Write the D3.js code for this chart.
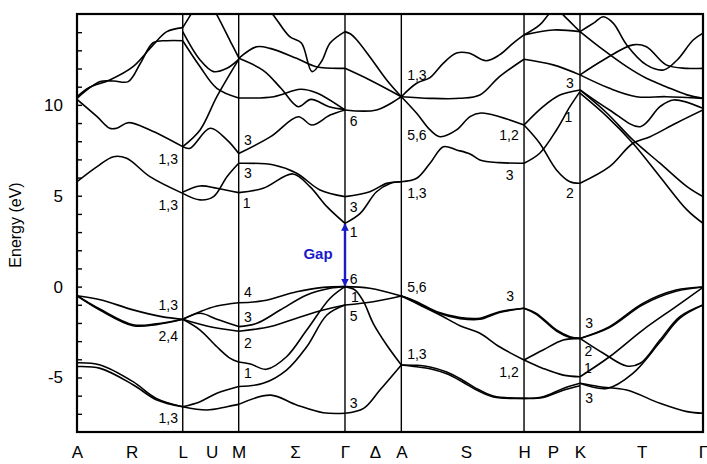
<!DOCTYPE html>
<html><head><meta charset="utf-8">
<script src="https://cdn.jsdelivr.net/npm/d3@7"></script>
<style>body{margin:0;background:#fff}svg{display:block}</style>
</head><body><svg id="c" width="707" height="464"></svg>
<script>
// k-path labels and positions (arbitrary path units)
const kLabels = ["A","R","L","U","M","Σ","Γ","Δ","A","S","H","P","K","T","Γ"];
const kLabelPos = [0, 0.874, 1.689, 2.152, 2.583, 3.482, 4.281, 4.760, 5.181, 6.214, 7.141, 7.604, 8.035, 9.021, 10.0];
const symPoints = [0, 1.689, 2.583, 4.281, 5.181, 7.141, 8.035, 10.0];
const yMajorTicks = [-5, 0, 5, 10];
const yMinorTicks = d3.range(-7, 15);

// bands per segment: [fraction along segment, energy eV]
const bandsAL = [
 [[0,-0.5],[0.22,-0.72],[0.53,-1.28],[0.8,-1.65],[1,-1.8]],
 [[0,-0.5],[0.22,-1.25],[0.53,-2.1],[0.75,-2.05],[1,-1.8]],
 [[0,-0.5],[0.22,-1.3],[0.53,-2.15],[0.75,-2.09],[1,-1.8]],
 [[0,-4.19],[0.22,-4.31],[0.53,-5.23],[0.75,-6.15],[1,-6.61]],
 [[0,-4.4],[0.22,-4.5],[0.53,-5.4],[0.75,-6.22],[1,-6.61]],
 [[0,5.77],[0.19,6.6],[0.345,7.15],[0.47,7.06],[0.69,6.05],[1,5.13]],
 [[0,10.3],[0.19,9.35],[0.31,8.71],[0.375,8.71],[0.485,9.02],[0.69,8.62],[1,7.7]],
 [[0,10.45],[0.12,10.97],[0.31,11.37],[0.53,12.1],[0.72,13.3],[0.85,14.03],[1,14.25]],
 [[0,10.36],[0.22,11.28],[0.35,11.31],[0.485,11.28],[0.6,12.29],[0.72,13.42],[0.85,13.53],[1,13.53]]
];
const bandsLM = [
 [[0,-1.8],[0.31,-1.38],[0.61,-1.07],[1,-0.89]],
 [[0,-1.8],[0.31,-1.47],[0.61,-1.8],[1,-2.2]],
 [[0,-1.8],[0.43,-2.17],[1,-2.46]],
 [[0,-1.8],[0.31,-2.39],[0.61,-3.31],[0.85,-3.95],[1,-4.15]],
 [[0,-6.61],[0.31,-6.33],[0.61,-5.87],[1,-5.5]],
 [[0,-6.61],[0.43,-6.79],[0.79,-6.61],[1,-6.48]],
 [[0,5.2],[0.31,5.54],[0.61,5.41],[1,5.17]],
 [[0,5.13],[0.31,4.77],[0.55,4.95],[0.79,6.05],[1,6.79]],
 [[0,7.7],[0.31,8.62],[0.61,10.45],[1,12.5]],
 [[0,7.7],[0.13,7.61],[0.49,8.71],[0.79,8.07],[1,7.32]],
 [[0,13.53],[0.31,12.1],[0.61,10.91],[1,10.38]],
 [[0,14.03],[0.31,12.47],[0.55,11.83],[0.79,12.01],[1,12.5]],
 [[0,14.25],[0.19,15.2],[0.35,16]],
 [[0.5,15.5],[0.61,14.95],[0.85,13.5],[1,12.6]]
];
const bandsMG = [
 [[0,17],[0.2,15.8],[0.325,14.95],[0.48,13.75],[0.59,13.4],[0.69,11.83],[0.78,12.4],[0.86,13.4],[1,14.03]],
 [[0,12.56],[0.17,13.2],[0.295,13.11],[0.545,12.56],[0.73,12.1],[1,12.01]],
 [[0,12.56],[0.23,11.9],[0.4,10.9],[0.56,9.9],[0.68,10.3],[0.85,9.9],[1,9.75]],
 [[0,10.38],[0.33,10.45],[0.58,10.86],[0.73,10.67],[1,9.72]],
 [[0,7.32],[0.3,8.25],[0.56,9.35],[0.69,8.89],[0.86,9.44],[1,9.72]],
 [[0,6.79],[0.33,6.69],[0.545,6.24],[0.765,5.32],[1,4.95]],
 [[0,5.17],[0.23,5.41],[0.51,6.2],[0.67,5.5],[0.83,4.4],[1,3.48]],
 [[0,-0.89],[0.23,-0.78],[0.545,-0.28],[0.795,-0.04],[1,0]],
 [[0,-2.2],[0.17,-2.02],[0.39,-1.29],[0.64,-0.46],[0.86,-0.09],[1,0]],
 [[0,-2.46],[0.3,-2.2],[0.545,-1.74],[0.795,-1.29],[1,-1.01]],
 [[0,-4.15],[0.11,-4.26],[0.26,-4.55],[0.45,-3.86],[0.64,-2.39],[0.86,-0.64],[1,0]],
 [[0,-5.5],[0.23,-5.32],[0.45,-4.59],[0.64,-3.31],[0.83,-1.56],[1,-1.01]],
 [[0,-6.48],[0.3,-5.97],[0.545,-6.51],[0.795,-6.94],[1,-6.97]]
];
const bandsGA = [
 [[0,0],[0.44,-0.09],[1,-0.52]],
 [[0,0],[0.18,-0.19],[0.33,-0.83],[0.5,-2.02],[0.74,-3.21],[1,-4.31]],
 [[0,-1.01],[0.5,-0.83],[1,-0.52]],
 [[0,-6.97],[0.33,-6.7],[0.62,-5.69],[1,-4.31]],
 [[0,14.03],[0.1,13.9],[0.21,13.57],[0.44,12.65],[0.74,11.37],[1,10.45]],
 [[0,12.01],[0.44,11.37],[1,10.45]],
 [[0,9.72],[0.56,9.72],[1,10.45]],
 [[0,4.95],[0.44,5.22],[0.74,5.68],[1,5.77]],
 [[0,3.48],[0.27,4.03],[0.56,5.22],[0.8,5.68],[1,5.77]]
];
const bandsAH = [
 [[0,10.45],[0.125,11.19],[0.234,11.5],[0.343,12.3],[0.45,12.85],[0.55,12.85],[0.69,12.43],[0.8,12.75],[0.91,13.39],[1,13.85]],
 [[0,10.45],[0.234,10.36],[0.478,10.36],[0.64,10.54],[0.8,11.55],[1,12.51]],
 [[0,10.45],[0.125,9.54],[0.234,8.62],[0.315,8.25],[0.45,8.62],[0.56,9.35],[0.65,9.55],[0.8,9.35],[1,8.89]],
 [[0,5.77],[0.125,5.96],[0.234,6.79],[0.343,7.7],[0.45,7.52],[0.56,7.3],[0.64,6.97],[0.8,6.82],[1,6.79]],
 [[0,-0.52],[0.125,-0.83],[0.29,-1.38],[0.48,-1.7],[0.64,-1.74],[0.8,-1.38],[1,-1.19]],
 [[0,-0.52],[0.125,-0.87],[0.29,-1.43],[0.48,-1.76],[0.64,-1.8],[0.8,-1.43],[1,-1.19]],
 [[0,-0.52],[0.15,-1.01],[0.315,-1.56],[0.478,-2.15],[0.64,-2.57],[0.8,-3.31],[1,-4.04]],
 [[0,-4.31],[0.125,-4.33],[0.234,-4.42],[0.37,-4.7],[0.5,-5.15],[0.61,-5.6],[0.75,-6.02],[1,-6.15]],
 [[0,-4.31],[0.125,-4.41],[0.234,-4.52],[0.37,-4.8],[0.5,-5.25],[0.61,-5.68],[0.75,-6.07],[1,-6.15]]
];
const bandsHK = [
 [[0,13.85],[0.52,14.12],[1,14.03]],
 [[0,13.85],[0.28,14.4],[0.43,14.95],[0.6,15.6]],
 [[0.55,15.5],[0.7,14.95],[0.82,14.58],[1,14.03]],
 [[0,12.51],[0.52,12.2],[1,11.65]],
 [[0,8.89],[0.34,9.9],[0.64,10.54],[1,10.82]],
 [[0,6.79],[0.28,7.34],[0.58,8.62],[0.82,9.9],[1,10.73]],
 [[0,8.89],[0.28,7.89],[0.58,6.42],[0.82,5.77],[1,5.69]],
 [[0,-1.19],[0.22,-1.47],[0.58,-2.39],[0.82,-2.76],[1,-2.85]],
 [[0,-1.19],[0.22,-1.52],[0.58,-2.45],[0.82,-2.8],[1,-2.85]],
 [[0,-4.04],[0.34,-3.49],[0.7,-2.94],[1,-2.85]],
 [[0,-4.04],[0.34,-4.5],[0.7,-4.87],[1,-4.96]],
 [[0,-6.15],[0.34,-6.06],[0.7,-5.6],[1,-5.32]],
 [[0,-6.15],[0.34,-6.1],[0.7,-5.7],[1,-5.45]]
];
const bandsKG = [
 [[0,14.03],[0.19,13.02],[0.38,12.1],[0.54,11.46],[0.7,11.0],[0.87,10.55],[1,10.36]],
 [[0,14.03],[0.11,14.5],[0.19,14.85],[0.27,14.5],[0.38,13.3],[0.54,12.2],[0.68,11.92],[0.79,12.47],[0.92,13.57],[1,13.95]],
 [[0,11.65],[0.19,12.47],[0.43,13.3],[0.54,13.2],[0.7,12.2],[0.87,12.01],[1,12.01]],
 [[0,11.65],[0.24,10.91],[0.46,10.45],[0.7,10.45],[1,10.36]],
 [[0,10.82],[0.24,9.72],[0.49,8.8],[0.65,9.9],[0.76,10.27],[1,9.81]],
 [[0,5.69],[0.24,6.6],[0.43,7.89],[0.57,8.25],[0.78,8.99],[1,9.72]],
 [[0,10.82],[0.22,9.54],[0.43,8.07],[0.65,6.79],[0.87,5.5],[1,4.95]],
 [[0,10.64],[0.22,9.35],[0.43,7.89],[0.65,6.05],[0.87,4.22],[1,3.48]],
 [[0,-2.85],[0.24,-2.2],[0.51,-0.92],[0.78,-0.19],[1,-0.02]],
 [[0,-2.85],[0.24,-2.25],[0.51,-1.0],[0.78,-0.26],[1,-0.02]],
 [[0,-2.85],[0.19,-3.67],[0.38,-4.37],[0.49,-4.22],[0.65,-2.94],[0.81,-1.66],[1,-1.01]],
 [[0,-4.96],[0.24,-3.86],[0.51,-2.39],[0.78,-1.1],[1,-0.04]],
 [[0,-5.32],[0.22,-5.6],[0.43,-4.77],[0.65,-3.05],[0.81,-1.75],[1,-1.01]],
 [[0,-5.32],[0.16,-5.51],[0.38,-5.69],[0.65,-6.42],[0.87,-6.88],[1,-6.97]]
];
const segments = [bandsAL, bandsLM, bandsMG, bandsGA, bandsAH, bandsHK, bandsKG];

// symmetry annotations [text, k, E]
const symLabels = [
 ["1,3",1.458,7.0],["1,3",1.458,4.49],["1,3",1.458,-1.01],["2,4",1.458,-2.72],["1,3",1.458,-7.25],
 ["3",2.73,8.07],["3",2.73,6.24],["1",2.71,4.62],["4",2.73,-0.28],["3",2.73,-1.66],["2",2.73,-3.09],["1",2.73,-4.77],
 ["6",4.42,9.13],["3",4.42,4.4],["1",4.42,3.02],["6",4.42,0.4],["1",4.44,-0.55],["5",4.42,-1.62],["3",4.42,-6.41],
 ["1,3",5.43,11.65],["5,6",5.43,8.34],["1,3",5.43,5.17],["5,6",5.43,-0.04],["1,3",5.43,-3.71],
 ["1,2",6.9,8.34],["3",6.91,6.14],["3",6.92,-0.52],["1,2",6.9,-4.68],
 ["3",7.875,11.19],["1",7.848,9.35],["2",7.875,5.13],["3",8.18,-1.99],["2",8.17,-3.52],["1",8.16,-4.48],["3",8.18,-6.15]
];
const gapRange = [3.45, 0.05];
const gapK = 4.281;
const gapLabel = ["Gap", 3.85, 1.79];

const svg = d3.select("#c");
const x = d3.scaleLinear().domain([0, 10]).range([77, 703]);
const y = d3.scaleLinear().domain([-8, 15]).range([432, 14]);
const font = "'Liberation Sans', Arial, Helvetica, sans-serif";

svg.append("defs").append("clipPath").attr("id","clip").append("rect")
  .attr("x", x(0)).attr("y", y(15)).attr("width", x(10)-x(0)).attr("height", y(-8)-y(15));
const defs = svg.select("defs");
const mk = defs.append("marker").attr("id","arr").attr("viewBox","0 0 10 10")
  .attr("refX",9).attr("refY",5).attr("markerWidth",3.2).attr("markerHeight",3.6).attr("orient","auto-start-reverse");
mk.append("path").attr("d","M0,0L10,5L0,10z").attr("fill","#1a1ac8");

// symmetry lines
svg.append("g").selectAll("line").data(symPoints.slice(1,-1)).join("line")
  .attr("x1", d=>x(d)).attr("x2", d=>x(d)).attr("y1", y(15)).attr("y2", y(-8))
  .attr("stroke","#000").attr("stroke-width",1.4);

// bands
const line = d3.line().curve(d3.curveCatmullRom.alpha(0.5)).x(d=>x(d[0])).y(d=>y(d[1]));
const gb = svg.append("g").attr("clip-path","url(#clip)");
segments.forEach((bands,i)=>{
  const k0 = symPoints[i], k1 = symPoints[i+1];
  bands.forEach(b=>{
    gb.append("path").attr("d", line(b.map(p=>[k0 + p[0]*(k1-k0), p[1]])))
      .attr("fill","none").attr("stroke","#000").attr("stroke-width",1.6);
  });
});

// y axis ticks
const yAxis = d3.axisLeft(y).tickValues(yMinorTicks).tickSizeInner(-5).tickSizeOuter(0).tickPadding(14)
  .tickFormat(d => yMajorTicks.includes(d) ? String(d) : "");
const ga = svg.append("g").attr("transform",`translate(${x(0)},0)`).call(yAxis);
ga.select(".domain").remove();
ga.selectAll(".tick line").attr("stroke","#000").attr("stroke-width",1.4);
ga.selectAll("text").attr("font-family",font).attr("font-size",17).attr("fill","#000");

// x axis labels
const xAxis = d3.axisBottom(x).tickValues(kLabelPos).tickFormat((d,i)=>kLabels[i]).tickSize(0).tickPadding(14);
const gx = svg.append("g").attr("transform",`translate(0,${y(-8)})`).call(xAxis);
gx.select(".domain").remove();
gx.selectAll("text").attr("font-family",font).attr("font-size",17).attr("fill","#000");

// frame
svg.append("rect").attr("x",x(0)).attr("y",y(15)).attr("width",x(10)-x(0)).attr("height",y(-8)-y(15))
  .attr("fill","none").attr("stroke","#000").attr("stroke-width",2.2);

// y label
svg.append("text").attr("transform",`translate(21,${(y(15)+y(-8))/2+2}) rotate(-90)`)
  .attr("text-anchor","middle").attr("font-family",font).attr("font-size",16).text("Energy (eV)");

// symmetry labels
svg.append("g").selectAll("text").data(symLabels).join("text")
  .attr("x", d=>x(d[1])).attr("y", d=>y(d[2])).attr("dy","0.36em")
  .attr("text-anchor","middle").attr("font-family",font).attr("font-size",14).attr("fill","#000")
  .text(d=>d[0]);

// gap arrow
svg.append("line").attr("x1",x(gapK)).attr("x2",x(gapK)).attr("y1",y(gapRange[1])).attr("y2",y(gapRange[0]))
  .attr("stroke","#1a1ac8").attr("stroke-width",2.4)
  .attr("marker-start","url(#arr)").attr("marker-end","url(#arr)");
svg.append("text").attr("x",x(gapLabel[1])).attr("y",y(gapLabel[2])).attr("dy","0.36em")
  .attr("text-anchor","middle").attr("font-family",font).attr("font-weight","bold").attr("font-size",15)
  .attr("fill","#1a1ac8").text(gapLabel[0]);
</script></body></html>
